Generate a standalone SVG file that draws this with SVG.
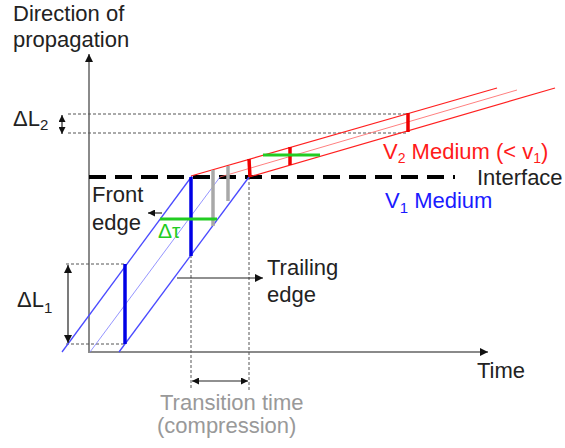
<svg xmlns="http://www.w3.org/2000/svg" width="565" height="448" viewBox="0 0 565 448">
<defs>
<marker id="ah" viewBox="0 0 10 10" refX="10" refY="5" markerWidth="9" markerHeight="8" markerUnits="userSpaceOnUse" orient="auto-start-reverse">
<path d="M0,0 L10,5 L0,10 z" fill="#111"/>
</marker>
<marker id="ahs" viewBox="0 0 10 10" refX="10" refY="5" markerWidth="8" markerHeight="7" markerUnits="userSpaceOnUse" orient="auto-start-reverse">
<path d="M0,0 L10,5 L0,10 z" fill="#111"/>
</marker>
<style>
text{font-family:"Liberation Sans",Arial,sans-serif;font-size:22px;fill:#222}
.axis{stroke:#8a8a8a;stroke-width:2;fill:none}
.dot{stroke:#555;stroke-width:1;stroke-dasharray:3,2;fill:none}
.blue{stroke:#4a4aff;stroke-width:1.3;fill:none}
.bluem{stroke:#7a7aff;stroke-width:0.8;fill:none}
.red{stroke:#ff2020;stroke-width:1.2;fill:none}
.redm{stroke:#ff6060;stroke-width:0.8;fill:none}
.bbar{stroke:#0000e6;stroke-width:3.5}
.rbar{stroke:#ee0000;stroke-width:3.5}
.gbar{stroke:#a8a8a8;stroke-width:3.5}
.green{stroke:#22cc22;stroke-width:3}
.arr{stroke:#222;stroke-width:1.2;fill:none}
</style>
</defs>

<g id="axes">
<line class="axis" x1="89" y1="352" x2="89" y2="54" marker-end="url(#ah)"/>
<line class="axis" x1="88" y1="352" x2="488" y2="352" marker-end="url(#ah)"/>
</g>

<g id="interface">
<line x1="89" y1="177" x2="455" y2="177" stroke="#000" stroke-width="4" stroke-dasharray="17,9"/>
</g>

<g id="connectors">
<line class="dot" x1="68" y1="114" x2="408" y2="114"/>
<line class="dot" x1="68" y1="133" x2="408" y2="133"/>
<line class="dot" x1="66" y1="264" x2="125" y2="264"/>
<line class="dot" x1="66" y1="344" x2="125" y2="344"/>
<line class="dot" x1="191" y1="255" x2="191" y2="390"/>
<line class="dot" x1="249" y1="177" x2="249" y2="390"/>
<line class="blue" x1="62" y1="352" x2="192" y2="176"/>
<line class="bluem" x1="90" y1="352" x2="220" y2="177"/>
<line class="blue" x1="119" y1="352" x2="249" y2="177"/>
<line class="red" x1="191" y1="176" x2="497" y2="88"/>
<line class="redm" x1="220" y1="177" x2="517" y2="90"/>
<line class="red" x1="249" y1="177" x2="555" y2="88"/>
<line class="arr" x1="62" y1="115" x2="62" y2="134" marker-start="url(#ahs)" marker-end="url(#ahs)"/>
<line class="arr" x1="68" y1="265" x2="68" y2="343" marker-start="url(#ah)" marker-end="url(#ah)"/>
<line class="arr" x1="192" y1="381" x2="248" y2="381" marker-start="url(#ahs)" marker-end="url(#ahs)"/>
<line class="arr" x1="177" y1="278" x2="263" y2="278" marker-end="url(#ah)"/>
<line class="arr" x1="162" y1="213" x2="148" y2="213" marker-end="url(#ahs)"/>
</g>

<g id="pulses">
<line class="bbar" x1="125" y1="264" x2="125" y2="344"/>
<line class="bbar" x1="191" y1="177" x2="191" y2="256"/>
<line class="gbar" x1="213" y1="170" x2="213" y2="226"/>
<line class="gbar" x1="228" y1="166" x2="228" y2="201"/>
<line class="rbar" x1="249" y1="159" x2="250" y2="177"/>
<line class="rbar" x1="290" y1="147" x2="290" y2="165"/>
<line class="rbar" x1="408" y1="113" x2="408" y2="132"/>
<line class="green" x1="160" y1="219" x2="217" y2="219"/>
<line class="green" x1="263" y1="155" x2="320" y2="155"/>
</g>

<g id="labels">
<text x="13" y="21">Direction of</text>
<text x="13" y="47">propagation</text>
<text x="13" y="126">ΔL<tspan font-size="15" dy="4">2</tspan></text>
<text x="17" y="307">ΔL<tspan font-size="15" dy="6">1</tspan></text>
<text x="383" y="159" style="fill:#ff1a1a">V<tspan font-size="14" dy="4">2</tspan><tspan dy="-4"> Medium (&lt; v</tspan><tspan font-size="14" dy="4">1</tspan><tspan dy="-4">)</tspan></text>
<text x="477" y="185">Interface</text>
<text x="385" y="208" style="fill:#1a1aff">V<tspan font-size="15" dy="5">1</tspan><tspan dy="-5"> Medium</tspan></text>
<text x="92" y="202">Front</text>
<text x="92" y="230">edge</text>
<text x="158" y="238" style="fill:#22cc22;font-size:21px">Δτ</text>
<text x="267" y="275">Trailing</text>
<text x="267" y="302">edge</text>
<text x="160" y="410" style="fill:#999">Transition time</text>
<text x="157" y="433" style="fill:#999">(compression)</text>
<text x="477" y="378">Time</text>
</g>
</svg>
